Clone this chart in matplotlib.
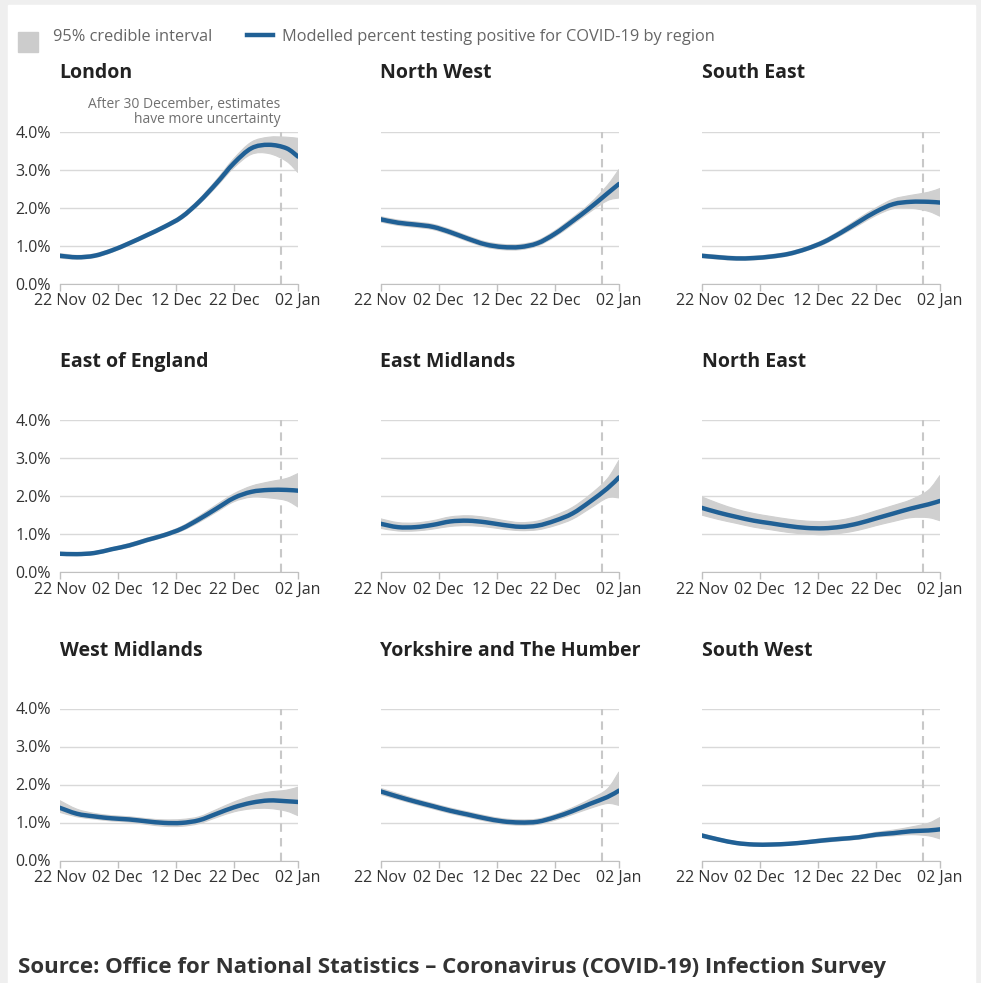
import matplotlib
matplotlib.use("Agg")
import matplotlib.pyplot as plt
import matplotlib.dates as mdates
from matplotlib.path import Path
from matplotlib.patches import PathPatch
import numpy as np

plt.rcParams['font.family'] = ['Open Sans', 'DejaVu Sans']

# dates of the read-off points (every 3 days, then 02 Jan)
dates = np.array(['2020-11-22', '2020-11-25', '2020-11-28', '2020-12-01', '2020-12-04',
                  '2020-12-07', '2020-12-10', '2020-12-13', '2020-12-16', '2020-12-19',
                  '2020-12-22', '2020-12-25', '2020-12-28', '2020-12-31', '2021-01-02'],
                 dtype='datetime64[D]')
tick_dates = np.array(['2020-11-22', '2020-12-02', '2020-12-12', '2020-12-22', '2021-01-02'],
                      dtype='datetime64[D]')
tick_labels = ['22 Nov', '02 Dec', '12 Dec', '22 Dec', '02 Jan']
cutoff = np.datetime64('2020-12-30')

regions = ['London', 'North West', 'South East',
           'East of England', 'East Midlands', 'North East',
           'West Midlands', 'Yorkshire and The Humber', 'South West']

london = [0.73, 0.69, 0.73, 0.87, 1.06, 1.27, 1.49, 1.75, 2.15, 2.64, 3.17, 3.56, 3.65, 3.56, 3.34]
london_lo = [0.67, 0.64, 0.68, 0.82, 1.01, 1.22, 1.44, 1.69, 2.08, 2.55, 3.05, 3.40, 3.42, 3.22, 2.92]
london_hi = [0.79, 0.74, 0.78, 0.92, 1.11, 1.32, 1.54, 1.81, 2.22, 2.73, 3.29, 3.72, 3.85, 3.85, 3.82]

north_west = [1.69, 1.60, 1.55, 1.49, 1.35, 1.18, 1.03, 0.96, 0.96, 1.06, 1.31, 1.64, 1.99, 2.37, 2.62]
north_west_lo = [1.62, 1.53, 1.48, 1.42, 1.28, 1.11, 0.96, 0.89, 0.89, 0.99, 1.23, 1.55, 1.88, 2.18, 2.25]
north_west_hi = [1.76, 1.67, 1.62, 1.56, 1.42, 1.25, 1.10, 1.03, 1.03, 1.13, 1.39, 1.73, 2.10, 2.58, 3.00]

south_east = [0.73, 0.69, 0.66, 0.67, 0.71, 0.78, 0.91, 1.09, 1.34, 1.62, 1.89, 2.09, 2.15, 2.15, 2.13]
south_east_lo = [0.68, 0.64, 0.61, 0.62, 0.66, 0.73, 0.86, 1.03, 1.27, 1.53, 1.79, 1.97, 1.98, 1.90, 1.77]
south_east_hi = [0.78, 0.74, 0.71, 0.72, 0.76, 0.83, 0.96, 1.15, 1.41, 1.71, 1.99, 2.22, 2.32, 2.40, 2.50]

east_england = [0.48, 0.47, 0.50, 0.60, 0.70, 0.84, 0.97, 1.14, 1.39, 1.67, 1.95, 2.11, 2.16, 2.16, 2.14]
east_england_lo = [0.44, 0.43, 0.46, 0.56, 0.65, 0.79, 0.92, 1.08, 1.31, 1.58, 1.85, 1.97, 1.95, 1.88, 1.71]
east_england_hi = [0.52, 0.51, 0.54, 0.64, 0.75, 0.89, 1.02, 1.20, 1.47, 1.77, 2.06, 2.26, 2.37, 2.46, 2.59]

east_midlands = [1.27, 1.18, 1.18, 1.24, 1.33, 1.35, 1.31, 1.24, 1.19, 1.22, 1.35, 1.54, 1.85, 2.20, 2.49]
east_midlands_lo = [1.15, 1.08, 1.08, 1.13, 1.20, 1.22, 1.19, 1.13, 1.09, 1.11, 1.22, 1.39, 1.67, 1.95, 1.95]
east_midlands_hi = [1.40, 1.30, 1.29, 1.35, 1.45, 1.48, 1.44, 1.36, 1.30, 1.34, 1.49, 1.70, 2.03, 2.45, 2.94]

north_east = [1.69, 1.56, 1.45, 1.35, 1.28, 1.21, 1.16, 1.15, 1.19, 1.28, 1.41, 1.54, 1.67, 1.78, 1.87]
north_east_lo = [1.50, 1.38, 1.28, 1.18, 1.11, 1.04, 1.00, 0.98, 1.02, 1.10, 1.22, 1.33, 1.43, 1.43, 1.35]
north_east_hi = [1.98, 1.80, 1.65, 1.54, 1.46, 1.39, 1.34, 1.33, 1.37, 1.47, 1.61, 1.75, 1.90, 2.15, 2.54]

west_midlands = [1.39, 1.23, 1.16, 1.11, 1.08, 1.03, 0.99, 0.99, 1.06, 1.23, 1.40, 1.52, 1.58, 1.56, 1.54]
west_midlands_lo = [1.27, 1.15, 1.09, 1.04, 1.01, 0.95, 0.90, 0.90, 0.97, 1.13, 1.28, 1.36, 1.37, 1.30, 1.18]
west_midlands_hi = [1.58, 1.35, 1.24, 1.18, 1.15, 1.10, 1.07, 1.08, 1.15, 1.34, 1.54, 1.70, 1.80, 1.85, 1.93]

yorkshire = [1.82, 1.68, 1.55, 1.43, 1.31, 1.21, 1.11, 1.03, 1.00, 1.02, 1.14, 1.30, 1.49, 1.67, 1.84]
yorkshire_lo = [1.74, 1.61, 1.48, 1.36, 1.24, 1.14, 1.04, 0.96, 0.93, 0.95, 1.06, 1.21, 1.37, 1.50, 1.45]
yorkshire_hi = [1.90, 1.76, 1.62, 1.50, 1.38, 1.28, 1.18, 1.10, 1.07, 1.09, 1.21, 1.39, 1.61, 1.88, 2.33]

south_west = [0.66, 0.55, 0.46, 0.42, 0.42, 0.44, 0.48, 0.53, 0.57, 0.61, 0.68, 0.72, 0.77, 0.79, 0.82]
south_west_lo = [0.61, 0.51, 0.42, 0.38, 0.38, 0.40, 0.44, 0.48, 0.52, 0.56, 0.62, 0.65, 0.68, 0.65, 0.57]
south_west_hi = [0.71, 0.59, 0.50, 0.46, 0.46, 0.48, 0.52, 0.58, 0.62, 0.66, 0.74, 0.80, 0.88, 0.98, 1.13]

series = [(london, london_lo, london_hi), (north_west, north_west_lo, north_west_hi),
          (south_east, south_east_lo, south_east_hi), (east_england, east_england_lo, east_england_hi),
          (east_midlands, east_midlands_lo, east_midlands_hi), (north_east, north_east_lo, north_east_hi),
          (west_midlands, west_midlands_lo, west_midlands_hi), (yorkshire, yorkshire_lo, yorkshire_hi),
          (south_west, south_west_lo, south_west_hi)]

BLUE = '#206095'
BAND = '#d0d0d0'
W, H = 981, 983


def bezier_parts(x, y):
    # smooth curve through the points (Catmull-Rom as cubic Bezier segments)
    p = np.column_stack([x, y])
    ext = np.vstack([p[0], p, p[-1]])
    verts, codes = [], []
    for k in range(len(p) - 1):
        p0, p1, p2, p3 = ext[k], ext[k + 1], ext[k + 2], ext[k + 3]
        verts += [p1 + (p2 - p0) / 6, p2 - (p3 - p1) / 6, p2]
        codes += [Path.CURVE4] * 3
    return p[0], verts, codes


def curve_path(x, y):
    start, verts, codes = bezier_parts(x, y)
    return Path([start] + verts, [Path.MOVETO] + codes)


def band_path(x, lo, hi):
    s1, v1, c1 = bezier_parts(x, hi)
    s2, v2, c2 = bezier_parts(x[::-1], lo[::-1])
    verts = [s1] + v1 + [s2] + v2 + [s1]
    codes = [Path.MOVETO] + c1 + [Path.LINETO] + c2 + [Path.CLOSEPOLY]
    return Path(verts, codes)


xnum = mdates.date2num(dates)

fig = plt.figure(figsize=(W / 100, H / 100), dpi=100, facecolor='#efefef')
# white card
fig.patches.append(plt.Rectangle((8 / W, 0), (975 - 8) / W, (H - 5) / H,
                                 transform=fig.transFigure, color='white', zorder=-1))

lefts = [59.5, 380.5, 701.5]
tops = [131.5, 420, 708.5]
ax_w, ax_h = 238.5, 152

for i, name in enumerate(regions):
    r, c = divmod(i, 3)
    ax = fig.add_axes([lefts[c] / W, 1 - (tops[r] + ax_h) / H, ax_w / W, ax_h / H])
    ax.set_facecolor('none')
    mid, lo, hi = (np.array(a, dtype=float) for a in series[i])
    ax.add_patch(PathPatch(band_path(xnum, lo, hi), facecolor=BAND, edgecolor=BAND,
                           lw=0.8, zorder=2))
    ax.add_patch(PathPatch(curve_path(xnum, mid), facecolor='none', edgecolor=BLUE,
                           lw=3.2, capstyle='round', zorder=3))
    ax.axvline(cutoff, color='#c8c8c8', lw=1.5, ls=(0, (4, 3)), zorder=1)

    ax.set_xlim(tick_dates[0], tick_dates[-1])
    ax.set_ylim(0, 4)
    ax.set_yticks([0, 1, 2, 3, 4])
    ax.yaxis.grid(True, color='#d9d9d9', lw=1)
    ax.set_axisbelow(True)
    if c == 0:
        ax.set_yticklabels(['0.0%', '1.0%', '2.0%', '3.0%', '4.0%'])
    else:
        ax.set_yticklabels([])
    ax.tick_params(axis='y', length=0, pad=6, labelsize=11.5, labelcolor='#333333')
    ax.set_xticks(tick_dates)
    ax.set_xticklabels(tick_labels)
    ax.tick_params(axis='x', length=5, width=1, color='#c0c0c0', pad=2,
                   labelsize=11.5, labelcolor='#333333')
    for s in ['top', 'right', 'left']:
        ax.spines[s].set_visible(False)
    ax.spines['bottom'].set_color('#c0c0c0')

    fig.text(lefts[c] / W, 1 - (tops[r] - 58) / H, name, fontsize=14, fontweight='bold',
             color='#222222', va='center', ha='left')

    if i == 0:
        ax.text(cutoff, 4.12, 'After 30 December, estimates\nhave more uncertainty',
                ha='right', va='bottom', fontsize=10, color='#707070', linespacing=0.95)

# legend
fig.patches.append(plt.Rectangle((18 / W, 1 - 52 / H), 20 / W, 20 / H,
                                 transform=fig.transFigure, color='#cccccc'))
fig.text(53 / W, 1 - 37 / H, '95% credible interval', fontsize=11.8, color='#666666',
         va='center', ha='left')
fig.lines.append(plt.Line2D([247 / W, 273 / W], [1 - 35 / H, 1 - 35 / H],
                            transform=fig.transFigure, color=BLUE, lw=3.2))
fig.text(282 / W, 1 - 37 / H, 'Modelled percent testing positive for COVID-19 by region',
         fontsize=11.8, color='#666666', va='center', ha='left')

fig.text(18 / W, 1 - 968 / H,
         'Source: Office for National Statistics \u2013 Coronavirus (COVID-19) Infection Survey',
         fontsize=16, fontweight='bold', color='#333333', va='center', ha='left')

fig.savefig('out.png', dpi=100, facecolor=fig.get_facecolor())
